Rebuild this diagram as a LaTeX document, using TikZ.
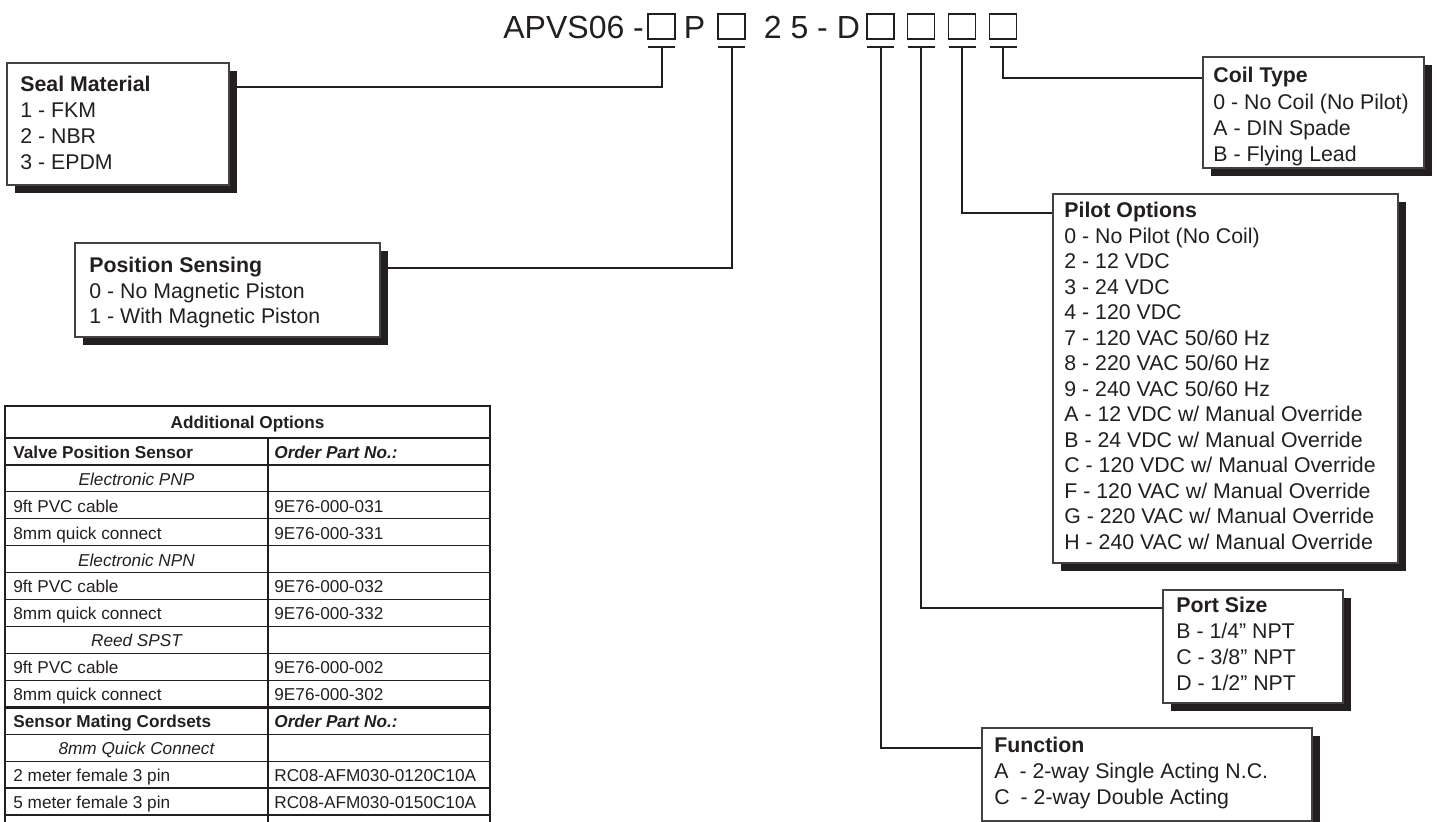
\documentclass[tikz,border=0pt]{standalone}
\usepackage{fontspec}
\setmainfont{Liberation Sans}
\usetikzlibrary{shadows,fit}

\definecolor{ink}{HTML}{231F20}

\tikzset{
  optbox/.style={draw=ink!85, line width=0.55pt, fill=white, inner sep=0pt,
    drop shadow={shadow xshift=4pt, shadow yshift=-4pt, opacity=1, fill=ink}},
  conn/.style={draw=ink, line width=1pt},
  head/.style={anchor=base west, inner sep=0pt, text=ink, font=\fontsize{10.65}{12}\selectfont\bfseries},
  item/.style={anchor=base west, inner sep=0pt, text=ink, font=\fontsize{10.65}{12}\selectfont},
  code/.style={anchor=base west, inner sep=0pt, text=ink, font=\fontsize{16}{19}\selectfont},
  slot/.style={draw=ink, line width=0.75pt, minimum width=13.5pt, minimum height=12.5pt, inner sep=0pt},
  cell/.style={anchor=base west, inner sep=0pt, text=ink, font=\fontsize{8.6}{10}\selectfont},
  cellb/.style={cell, font=\fontsize{8.6}{10}\selectfont\bfseries},
  celli/.style={cell, anchor=base, font=\fontsize{8.6}{10}\selectfont\itshape},
  cellbi/.style={cell, font=\fontsize{8.6}{10}\selectfont\bfseries\itshape},
  tabthin/.style={draw=ink, line width=0.6pt},
  tabthick/.style={draw=ink, line width=1.4pt},
}

\begin{document}
\begin{tikzpicture}[x=0.5pt, y=-0.5pt]
\useasboundingbox (0,0) rectangle (1437,822);

% Part number
\node[code] (pre) at (503,39) {APVS06 -};
\node[code] (pp) at (683.5,39) {P};
\node[code] (num) at (763.5,39) {2 5 - D};
\foreach \n/\x in {1/661.5, 2/731.5, 3/880.5, 4/921, 5/962, 6/1003} {
  \node[slot] (sq\n) at (\x,26.5) {};
  \coordinate (t\n) at (\x,47);
  \draw[conn] ([xshift=-6.75pt]t\n) -- ([xshift=6.75pt]t\n);
}

% Seal Material
\node[optbox, fit={(7,63) (229,185)}] (seal) {};
\node[head] (sealhd) at (20,92) {Seal Material};
\foreach \s [count=\i] in {{1 - FKM}, {2 - NBR}, {3 - EPDM}}
  \node[item] (seal\i) at (20,{92+26*\i}) {\s};
\draw[conn] (t1) |- (seal.east |- sealhd.mid);

% Position Sensing
\node[optbox, fit={(75,243) (380,337)}] (pos) {};
\node[head] (poshd) at (89,273) {Position Sensing};
\foreach \s [count=\i] in {{0 - No Magnetic Piston}, {1 - With Magnetic Piston}}
  \node[item] (pos\i) at (89,{273+25.5*\i}) {\s};
\draw[conn] (t2) |- (pos.east |- poshd.mid);

% Coil Type
\node[optbox, fit={(1203,57) (1424,168)}] (coil) {};
\node[head] (coilhd) at (1213,83) {Coil Type};
\foreach \s [count=\i] in {{0 - No Coil (No Pilot)}, {A - DIN Spade}, {B - Flying Lead}}
  \node[item] (coil\i) at (1213,{83+26.3*\i}) {\s};
\draw[conn] (t6) |- (coil.west |- coilhd.mid);

% Pilot Options
\node[optbox, fit={(1053,194) (1398,563)}] (pilot) {};
\node[head] (pilothd) at (1064,218) {Pilot Options};
\foreach \s [count=\i] in {{0 - No Pilot (No Coil)}, {2 - 12 VDC}, {3 - 24 VDC}, {4 - 120 VDC},
    {7 - 120 VAC 50/60 Hz}, {8 - 220 VAC 50/60 Hz}, {9 - 240 VAC 50/60 Hz},
    {A - 12 VDC w/ Manual Override}, {B - 24 VDC w/ Manual Override},
    {C - 120 VDC w/ Manual Override}, {F - 120 VAC w/ Manual Override},
    {G - 220 VAC w/ Manual Override}, {H - 240 VAC w/ Manual Override}}
  \node[item] (pilot\i) at (1064,{218+25.5*\i}) {\s};
\draw[conn] (t5) |- (pilot.west |- pilothd.mid);

% Port Size
\node[optbox, fit={(1163,590) (1343,703)}] (port) {};
\node[head] (porthd) at (1176,613) {Port Size};
\foreach \s [count=\i] in {{B - 1/4” NPT}, {C - 3/8” NPT}, {D - 1/2” NPT}}
  \node[item] (port\i) at (1176,{613+25.7*\i}) {\s};
\draw[conn] (t4) |- (port.west |- porthd.mid);

% Function
\node[optbox, fit={(982,728) (1312,821)}] (func) {};
\node[head] (funchd) at (994,753) {Function};
\foreach \s [count=\i] in {{A\hspace{2.5pt} - 2-way Single Acting N.C.}, {C\hspace{2.5pt} - 2-way Double Acting}}
  \node[item] (func\i) at (994,{753+25.7*\i}) {\s};
\draw[conn] (t3) |- (func.west |- funchd.mid);

% Additional Options table
\foreach \k in {2,...,9,11,12,13}
  \draw[tabthin] (5,{438+26.93*\k}) -- (490,{438+26.93*\k});
\draw[tabthin] (5,{438+26.93}) -- (490,{438+26.93});
\draw[tabthin] (268,438) -- (268,822);
\foreach \k in {0,10,14}
  \draw[tabthick] (5,{438+26.93*\k}) -- (490,{438+26.93*\k});
\draw[tabthick] (5,822) -- (5,406) -- (490,406) -- (490,822);

\node[cellb, anchor=base] (tabhd) at (247.5,429) {Additional Options};
\foreach \i in {0,10} {
  \node[cellb] (cl\i) at (13,{458.5+26.9*\i}) {\ifnum\i=0 Valve Position Sensor\else Sensor Mating Cordsets\fi};
  \node[cellbi] (cr\i) at (274,{458.5+26.9*\i}) {Order Part No.:};
}
\foreach \i/\s in {1/Electronic PNP, 4/Electronic NPN, 7/Reed SPST, 11/8mm Quick Connect}
  \node[celli] (cl\i) at (136.5,{458.5+26.9*\i}) {\s};
\foreach \i/\l/\r in {2/9ft PVC cable/9E76-000-031, 3/8mm quick connect/9E76-000-331,
    5/9ft PVC cable/9E76-000-032, 6/8mm quick connect/9E76-000-332,
    8/9ft PVC cable/9E76-000-002, 9/8mm quick connect/9E76-000-302,
    12/2 meter female 3 pin/RC08-AFM030-0120C10A, 13/5 meter female 3 pin/RC08-AFM030-0150C10A} {
  \node[cell] (cl\i) at (13,{458.5+26.9*\i}) {\l};
  \node[cell] (cr\i) at (274,{458.5+26.9*\i}) {\r};
}
\end{tikzpicture}
\end{document}
